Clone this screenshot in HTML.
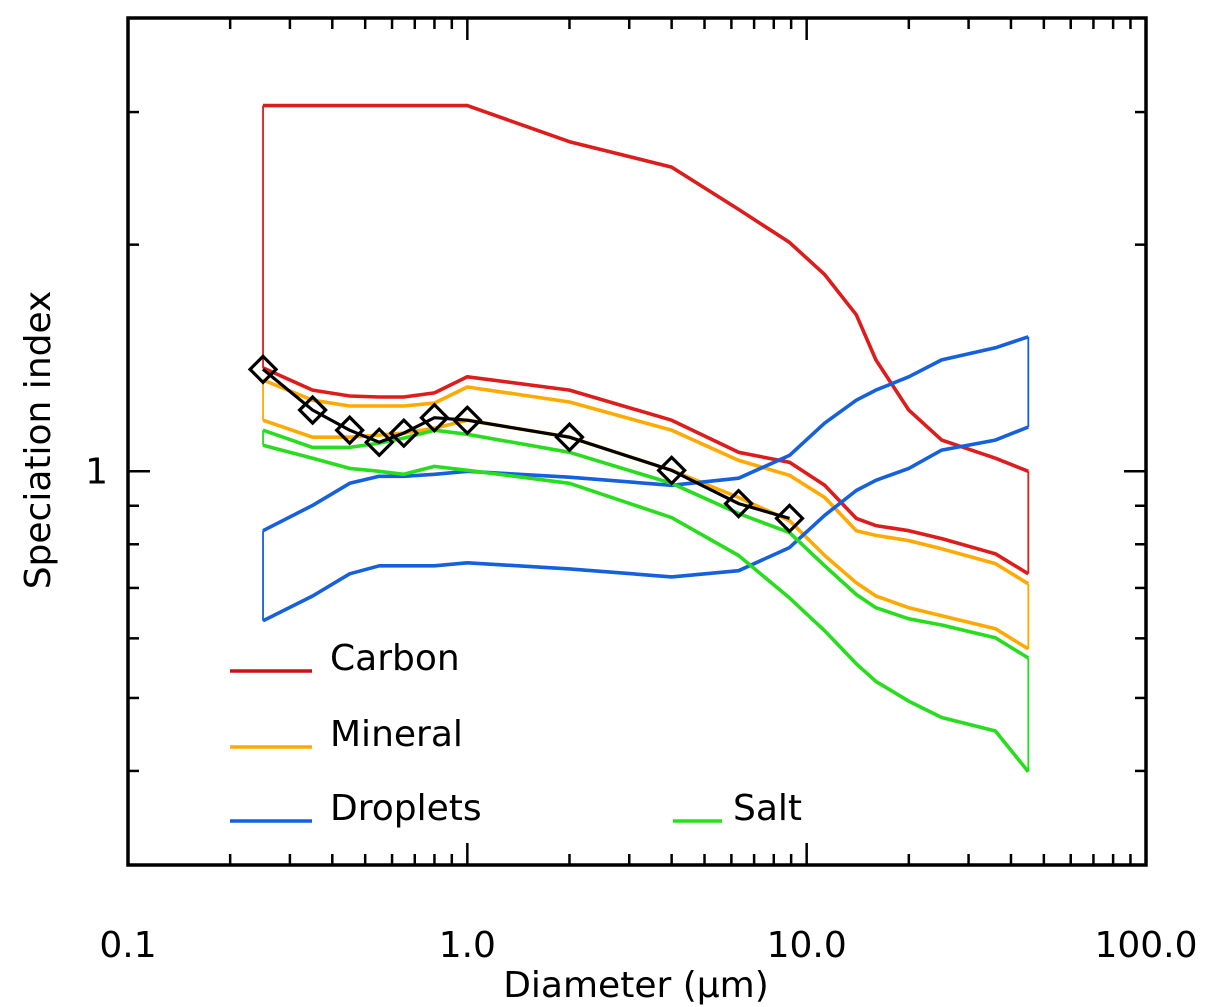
<!DOCTYPE html>
<html><head><meta charset="utf-8"><style>
html,body{margin:0;padding:0;background:#fff;}
svg{display:block;font-family:"DejaVu Sans","Liberation Sans",sans-serif;}
</style></head><body>
<svg id="chart" width="1217" height="1007" viewBox="0 0 1217 1007" xmlns="http://www.w3.org/2000/svg">
<g id="plot"></g>
</svg>
<script>
const diam = [0.25,0.35,0.45,0.55,0.65,0.8,1.0,2.0,4.0,6.3,8.9,11.3,14,16,20,25,36,45];
const carbonUpper = [3.06,3.06,3.06,3.06,3.06,3.06,3.06,2.74,2.535,2.228,2.014,1.825,1.614,1.406,1.206,1.10,1.041,1.0];
const carbonLower = [1.372,1.282,1.259,1.255,1.255,1.271,1.335,1.282,1.169,1.060,1.028,0.958,0.866,0.847,0.834,0.814,0.777,0.731];
const mineralUpper = [1.322,1.243,1.221,1.221,1.221,1.232,1.294,1.236,1.134,1.034,0.988,0.923,0.834,0.822,0.809,0.789,0.754,0.709];
const mineralLower = [1.169,1.110,1.110,1.117,1.124,1.141,1.169,1.110,1.003,0.923,0.860,0.773,0.711,0.683,0.659,0.643,0.618,0.581];
const saltUpper = [1.134,1.076,1.076,1.090,1.107,1.134,1.120,1.060,0.964,0.879,0.829,0.749,0.686,0.659,0.637,0.625,0.601,0.565];
const saltLower = [1.083,1.041,1.009,1.0,0.991,1.015,1.003,0.964,0.868,0.773,0.679,0.614,0.555,0.526,0.495,0.471,0.452,0.399];
const dropUpper = [0.834,0.901,0.964,0.985,0.985,0.991,1.0,0.982,0.958,0.979,1.050,1.159,1.243,1.282,1.335,1.406,1.459,1.509];
const dropLower = [0.633,0.683,0.731,0.749,0.749,0.749,0.756,0.742,0.724,0.738,0.792,0.874,0.943,0.973,1.009,1.067,1.100,1.145];
const meanDiam = [0.25,0.35,0.45,0.55,0.65,0.8,1.0,2.0,4.0,6.3,8.9];
const meanIndex = [1.366,1.206,1.134,1.093,1.124,1.178,1.169,1.110,1.003,0.906,0.866];
const xTickLabels = ["0.1","1.0","10.0","100.0"];
const xTickVals = [0.1,1,10,100];
const yTickLabels = ["1"];
const yTickVals = [1];
const yMinorVals = [0.4,0.5,0.6,0.7,0.8,0.9,2,3];

const L=128,R=1146,T=18,B=865;
const xMin=0.1,xMax=100,yMin=0.3,yMax=4;
function xs(v){return L+(Math.log10(v)-Math.log10(xMin))/(Math.log10(xMax)-Math.log10(xMin))*(R-L);}
function ys(v){return B-(Math.log10(v)-Math.log10(yMin))/(Math.log10(yMax)-Math.log10(yMin))*(B-T);}
const NS="http://www.w3.org/2000/svg";
const g=document.getElementById('plot');
function mk(tag,attrs){const e=document.createElementNS(NS,tag);for(const k in attrs)e.setAttribute(k,attrs[k]);g.appendChild(e);return e;}

const bands=[
 {name:'carbon',up:carbonUpper,lo:carbonLower,c:'#dd1c1c'},
 {name:'mineral',up:mineralUpper,lo:mineralLower,c:'#ffaa00'},
 {name:'droplets',up:dropUpper,lo:dropLower,c:'#1560dc'},
 {name:'salt',up:saltUpper,lo:saltLower,c:'#28dd1e'}
];
bands.forEach(b=>{
  const pu=diam.map((d,i)=>xs(d).toFixed(1)+','+ys(b.up[i]).toFixed(1)).join(' ');
  const pl=diam.map((d,i)=>xs(d).toFixed(1)+','+ys(b.lo[i]).toFixed(1)).join(' ');
  let e=mk('polyline',{points:pu,fill:'none',stroke:b.c,'stroke-width':3.6,'stroke-linejoin':'round'});
  
  
  e=mk('polyline',{points:pl,fill:'none',stroke:b.c,'stroke-width':3.6,'stroke-linejoin':'round'});
  
  
  const n=diam.length-1;
  e=mk('line',{x1:xs(diam[0]),y1:ys(b.up[0]),x2:xs(diam[0]),y2:ys(b.lo[0]),stroke:b.c,'stroke-width':1.8});
  
  
  e=mk('line',{x1:xs(diam[n]),y1:ys(b.up[n]),x2:xs(diam[n]),y2:ys(b.lo[n]),stroke:b.c,'stroke-width':1.8});
  
  
});
let ml=mk('polyline',{points:meanDiam.map((d,i)=>xs(d).toFixed(1)+','+ys(meanIndex[i]).toFixed(1)).join(' '),fill:'none',stroke:'#000','stroke-width':3.2});


meanDiam.forEach((d,i)=>{
  const x=xs(d),y=ys(meanIndex[i]),s=13;
  const e=mk('polygon',{points:`${x},${y-s} ${x+s},${y} ${x},${y+s} ${x-s},${y}`,fill:'none',stroke:'#000','stroke-width':3.2});
  
  
});
let fr=mk('rect',{x:L,y:T,width:R-L,height:B-T,fill:'none',stroke:'#000','stroke-width':3.5});


for(let dec=0.1;dec<100;dec*=10){
  for(let k=2;k<10;k++){
    const x=xs(dec*k);
    let e=mk('line',{x1:x,y1:B,x2:x,y2:B-11,stroke:'#000','stroke-width':2.5});
    
    
    e=mk('line',{x1:x,y1:T,x2:x,y2:T+11,stroke:'#000','stroke-width':2.5});
    
    
  }
}
xTickVals.forEach((v,i)=>{
  const x=xs(v);
  let e=mk('line',{x1:x,y1:B,x2:x,y2:B-22,stroke:'#000','stroke-width':2.5});
  
  
  e=mk('line',{x1:x,y1:T,x2:x,y2:T+22,stroke:'#000','stroke-width':2.5});
  
  
  e=mk('text',{x:x,y:957,'font-size':36,'text-anchor':'middle',fill:'#000'});
  e.textContent=xTickLabels[i];
  
  
});
yMinorVals.forEach(v=>{
  const y=ys(v);
  let e=mk('line',{x1:L,y1:y,x2:L+11,y2:y,stroke:'#000','stroke-width':2.5});
  
  
  e=mk('line',{x1:R,y1:y,x2:R-11,y2:y,stroke:'#000','stroke-width':2.5});
  
  
});
yTickVals.forEach((v,i)=>{
  const y=ys(v);
  let e=mk('line',{x1:L,y1:y,x2:L+22,y2:y,stroke:'#000','stroke-width':2.5});
  
  
  e=mk('line',{x1:R,y1:y,x2:R-22,y2:y,stroke:'#000','stroke-width':2.5});
  
  
  e=mk('text',{x:108,y:y+12,'font-size':36,'text-anchor':'end',fill:'#000'});
  e.textContent=yTickLabels[i];
  
  
});
let t=mk('text',{x:636,y:997,'font-size':36,'text-anchor':'middle',fill:'#000'});
t.textContent='Diameter (\u03bcm)';


t=mk('text',{x:0,y:0,'font-size':36,'text-anchor':'middle',fill:'#000',transform:'translate(50,440) rotate(-90)'});
t.textContent='Speciation index';


const legend=[
 {label:'Carbon',c:'#c81414',x1:230,x2:312,y:671,tx:330},
 {label:'Mineral',c:'#ffaa00',x1:230,x2:312,y:747,tx:330},
 {label:'Droplets',c:'#1560dc',x1:230,x2:312,y:821,tx:330},
 {label:'Salt',c:'#28e01e',x1:673,x2:722,y:821,tx:733}
];
legend.forEach(l=>{
  let e=mk('line',{x1:l.x1,y1:l.y,x2:l.x2,y2:l.y,stroke:l.c,'stroke-width':3.4});
  
  
  e=mk('text',{x:l.tx,y:l.y-1,'font-size':36,fill:'#000'});
  e.textContent=l.label;
  
  
});
</script>
</body></html>
